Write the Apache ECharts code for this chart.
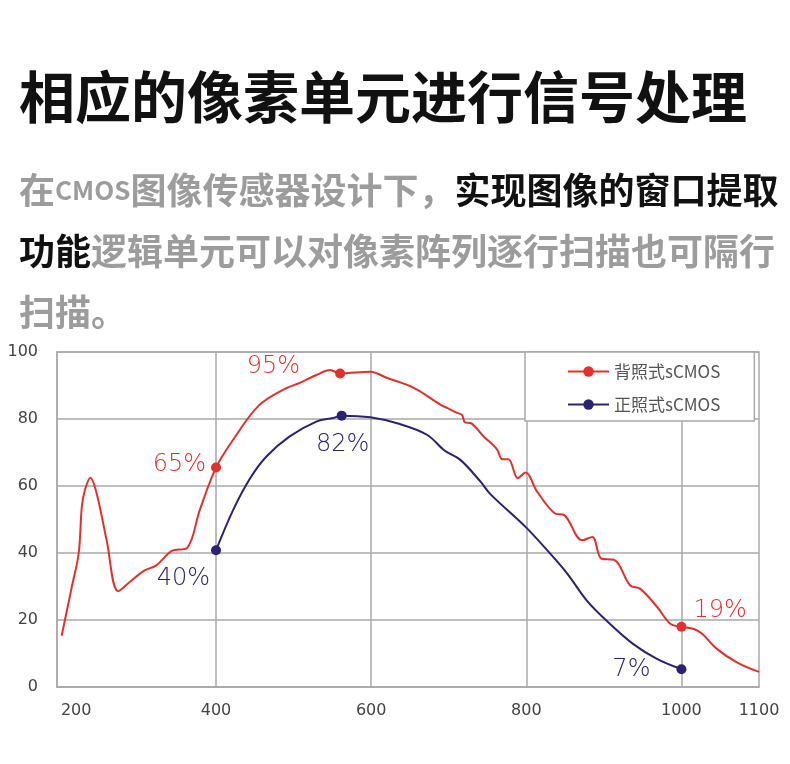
<!DOCTYPE html>
<html>
<head>
    <meta charset="utf-8">
    <script src="https://cdn.jsdelivr.net/npm/echarts@6/dist/echarts.min.js"></script>
    <style>
        *{
            margin:0;
            padding:0;
        }
        body{ background:#fff; }
    </style>
</head>
<body>
    <div id="main" style="width: 790px;height:764px;"></div>
    <script type="text/javascript">

    // 背照式 (back-illuminated) curve, wavelength nm / QE %
    var redNm  = [201, 214, 223, 227, 231, 238, 246, 259, 274, 291, 308, 323, 343, 363, 379, 400, 422, 455, 487, 508, 530, 547, 560, 599, 620, 655, 689, 698, 711, 717, 721, 728, 745, 762, 769, 777, 789, 799, 814, 837, 849, 872, 885, 897, 913, 934, 947, 969, 986, 1000, 1016, 1027, 1046, 1072, 1100];
    var redVal = [15.3, 29.8, 40, 53.8, 58.8, 62.5, 57.9, 43.8, 28.6, 31.8, 34.8, 36.3, 40.6, 41.6, 52.8, 65.5, 73.8, 84, 88.8, 90.8, 93.2, 94.6, 93.6, 94.1, 92.3, 89.3, 84.3, 83.3, 81.8, 81.2, 79, 78.8, 74.8, 71, 68, 68, 62.3, 64, 58.3, 51.8, 51.3, 43.8, 44.8, 38.3, 38, 30.3, 29.3, 23.8, 18.8, 18, 17.3, 15.8, 11.3, 7.3, 4.5];

    // 正照式 (front-illuminated) curve
    var navyNm  = [400, 422, 444, 465, 495, 530, 551, 562, 599, 637, 672, 695, 715, 741, 754, 799, 827, 853, 878, 908, 938, 969, 1000];
    var navyVal = [40.8, 52.8, 62.3, 68.8, 74.8, 79.3, 80.3, 81, 80.5, 78.5, 75.3, 70.5, 67.8, 61.3, 57.5, 47.8, 40.8, 33.8, 25.8, 18.8, 12.8, 8.3, 5.3];

    // marked points and their captions
    var redMarkNm = [400, 560, 1000];
    var redMarkText = ['65%', '95%', '19%'];
    var navyMarkNm = [400, 562, 1000];
    var navyMarkText = ['40%', '82%', '7%'];

    var seriesNames = ['背照式sCMOS', '正照式sCMOS'];
    var xLabelValues = [200, 400, 600, 800, 1000, 1100];
    var xGridValues = [400, 600, 800, 1000];

    var RED = '#e3302c';
    var NAVY = '#2b2273';
    var GRID = '#a9a9a9';

    // label placement for each marked point (layout only)
    var redLabelPos = [
        {position: 'left', distance: 5, offset: [0, -3]},
        {position: 'left', distance: 35, offset: [0, -7]},
        {position: 'right', distance: 7, offset: [0, -16]}
    ];
    var navyLabelPos = [
        {position: 'left', distance: 1, offset: [0, 28]},
        {position: 'bottom', distance: 12, offset: [1, 0]},
        {position: 'left', distance: 26, offset: [0, 1]}
    ];

    function buildData(nm, val, markNm, markText, labelPos, color) {
        return nm.map(function (x, i) {
            var k = markNm.indexOf(x);
            if (k < 0) {
                return {value: [x, val[i]], symbolSize: 0};
            }
            return {
                value: [x, val[i]],
                symbolSize: 10,
                label: {
                    show: true,
                    formatter: markText[k],
                    position: labelPos[k].position,
                    distance: labelPos[k].distance,
                    offset: labelPos[k].offset,
                    color: color,
                    fontSize: 24,
                    fontFamily: 'DejaVu Sans',
                    fontWeight: 200
                }
            };
        });
    }

    var myChart = echarts.init(document.getElementById('main'), null, {renderer: 'canvas'});

    myChart.setOption({
        animation: false,
        backgroundColor: '#fff',
        title: [
            {
                text: '相应的像素单元进行信号处理',
                left: 19,
                top: 67,
                padding: 0,
                textStyle: {
                    fontSize: 56,
                    lineHeight: 60,
                    fontWeight: 'bold',
                    color: '#111',
                    fontFamily: 'Noto Sans CJK SC'
                }
            },
            {
                text: '{g|在}{c|CMOS}{g|图像传感器设计下，}{b|实现图像的窗口提取}\n' +
                      '{b|功能}{g|逻辑单元可以对像素阵列逐行扫描也可隔行}\n' +
                      '{g|扫描。}',
                left: 19,
                top: 160,
                padding: 0,
                textStyle: {
                    rich: {
                        g: {fontSize: 36, lineHeight: 61, fontWeight: 'bold', color: '#9c9c9c', fontFamily: 'Noto Sans CJK SC'},
                        b: {fontSize: 36, lineHeight: 61, fontWeight: 'bold', color: '#111', fontFamily: 'Noto Sans CJK SC'},
                        c: {fontSize: 26, lineHeight: 61, fontWeight: 'bold', color: '#9c9c9c', fontFamily: 'Noto Sans CJK SC'}
                    }
                }
            }
        ],
        legend: {
            data: seriesNames,
            orient: 'vertical',
            left: 525,
            top: 352,
            padding: [11, 34, 8, 42],
            itemGap: 16,
            itemWidth: 41,
            itemHeight: 13,
            backgroundColor: '#fff',
            borderColor: GRID,
            borderWidth: 1.5,
            borderRadius: 0,
            z: 10,
            textStyle: {
                fontSize: 17,
                color: '#555',
                fontFamily: 'Noto Sans CJK SC'
            }
        },
        grid: {
            left: 57,
            right: 31,
            top: 352,
            bottom: 77,
            show: true,
            borderColor: GRID,
            borderWidth: 1.5
        },
        xAxis: {
            type: 'value',
            min: 195,
            max: 1100,
            axisLine: {lineStyle: {color: GRID, width: 1.5}},
            axisTick: {show: false, customValues: xGridValues},
            axisLabel: {
                customValues: xLabelValues,
                alignMinLabel: 'left',
                formatter: function (v) { return String(v); },
                color: '#444',
                fontSize: 16,
                fontFamily: 'DejaVu Sans',
                margin: 16
            },
            splitLine: {show: true, lineStyle: {color: GRID, width: 1.5}}
        },
        yAxis: {
            type: 'value',
            min: 0,
            max: 100,
            interval: 20,
            axisLine: {show: true, lineStyle: {color: GRID, width: 1.5}},
            axisTick: {show: false},
            axisLabel: {
                color: '#444',
                fontSize: 16,
                fontFamily: 'DejaVu Sans',
                margin: 19
            },
            splitLine: {show: true, lineStyle: {color: GRID, width: 1.5}}
        },
        series: [
            {
                name: seriesNames[0],
                type: 'line',
                smooth: 0.35,
                symbol: 'circle',
                symbolSize: 0,
                color: RED,
                lineStyle: {width: 2, color: RED},
                itemStyle: {color: RED},
                data: buildData(redNm, redVal, redMarkNm, redMarkText, redLabelPos, RED)
            },
            {
                name: seriesNames[1],
                type: 'line',
                smooth: 0.35,
                symbol: 'circle',
                symbolSize: 0,
                color: NAVY,
                lineStyle: {width: 2, color: NAVY},
                itemStyle: {color: NAVY},
                data: buildData(navyNm, navyVal, navyMarkNm, navyMarkText, navyLabelPos, NAVY)
            }
        ]
    });
</script>
</body>
</html>
